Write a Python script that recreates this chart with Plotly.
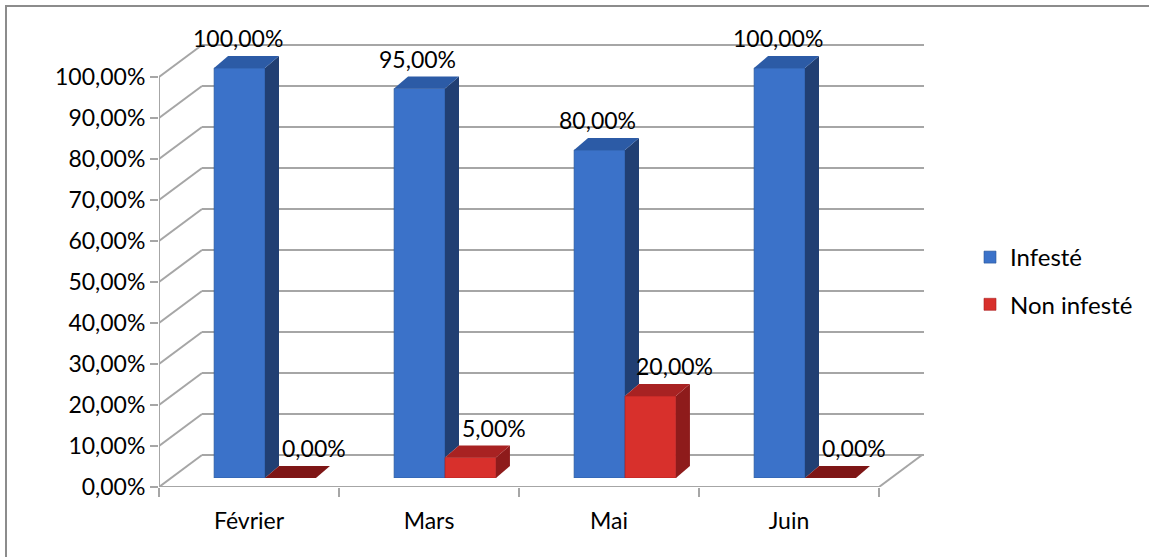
import plotly.graph_objects as go

# --- data -------------------------------------------------------------
mois = ["Février", "Mars", "Mai", "Juin"]
infeste = [100.0, 95.0, 80.0, 100.0]        # % infesté
non_infeste = [0.0, 5.0, 20.0, 0.0]         # % non infesté
y_ticks = [0, 10, 20, 30, 40, 50, 60, 70, 80, 90, 100]

# --- page geometry (pixels) -------------------------------------------
W, H = 1149, 557
FRONT_L, FRONT_R = 159, 879          # front floor edge
FRONT_T, FRONT_B = 77, 487           # 100 % and 0 % on the front axis
DEPTH_X, DEPTH_Y = 43, 32            # offset of the back wall
BAR_DX, BAR_DY = 16, 9               # offset of the bar plane
SIDE_DX, SIDE_DY = 14, 12            # bar thickness (side / top faces)
BAR_W = 0.283                        # bar width in category units

PLOT_L, PLOT_R = FRONT_L, 945
PLOT_T, PLOT_B = 15, FRONT_B
PW, PH = PLOT_R - PLOT_L, PLOT_B - PLOT_T
CAT_PX = (FRONT_R - FRONT_L) / len(mois)
VAL_PX = (FRONT_B - FRONT_T) / 100.0

BLUE, BLUE_SIDE, BLUE_TOP = "#3b72c9", "#213f73", "#2c5ba6"
RED, RED_SIDE, RED_TOP = "#d8302c", "#8e1b1b", "#a82222"
GRID = "#a6a6a6"
FONT = "Lato"
FS = 23


def fmt(v):
    return f"{v:.2f}".replace(".", ",") + "%"


fig = go.Figure()

# invisible trace so the front category axis gets its labels
fig.add_trace(go.Scatter(x=mois, y=infeste, mode="markers",
                         marker=dict(opacity=0), showlegend=False,
                         hoverinfo="skip", xaxis="x", yaxis="y"))

fig.add_trace(go.Bar(name="Infesté", x=mois, y=infeste, width=BAR_W,
                     offset=-BAR_W, marker=dict(color=BLUE,
                     line=dict(color="#2a5596", width=0.6)),
                     xaxis="x2", yaxis="y2", legendgroup="a"))
fig.add_trace(go.Bar(name="Non infesté", x=mois, y=non_infeste, width=BAR_W,
                     offset=0, marker=dict(color=RED,
                     line=dict(color="#a82020", width=0.6)),
                     xaxis="x2", yaxis="y2", legendgroup="b"))

shapes = []
wall = dict(xref="x", yref="y", layer="below", type="line",
            xsizemode="pixel", ysizemode="pixel",
            line=dict(color=GRID, width=2))

# back wall gridlines and side-wall diagonals
for v in y_ticks:
    shapes.append(dict(xanchor=-0.5, yanchor=v,
                       x0=DEPTH_X, x1=DEPTH_X + CAT_PX * len(mois) + 2,
                       y0=DEPTH_Y, y1=DEPTH_Y, **wall))
    shapes.append(dict(xanchor=-0.5, yanchor=v,
                       x0=0, y0=0, x1=DEPTH_X, y1=DEPTH_Y, **wall))
# right edge of the floor
shapes.append(dict(xanchor=len(mois) - 0.5, yanchor=0,
                   x0=0, y0=0, x1=DEPTH_X, y1=DEPTH_Y, **wall))
# front value axis and front floor edge
shapes.append(dict(type="line", xref="x", yref="y", layer="below",
                   x0=-0.5, x1=-0.5, y0=0, y1=max(y_ticks),
                   line=dict(color=GRID, width=2)))
shapes.append(dict(type="line", xref="x", yref="y", layer="below",
                   x0=-0.5, x1=len(mois) - 0.5, y0=0, y1=0,
                   line=dict(color=GRID, width=2)))

# side and top faces of the columns
bw = BAR_W * CAT_PX
for i, (b, r) in enumerate(zip(infeste, non_infeste)):
    bh, rh = b * VAL_PX, r * VAL_PX
    common = dict(xref="x2", yref="y2", layer="above", type="path",
                  xsizemode="pixel", ysizemode="pixel", yanchor=0,
                  line=dict(width=0))
    # blue side (the part not hidden by the red column)
    shapes.append(dict(xanchor=i, fillcolor=BLUE_SIDE,
                       path=f"M0,{rh} L{SIDE_DX},{rh + SIDE_DY} "
                            f"L{SIDE_DX},{bh + SIDE_DY} L0,{bh} Z", **common))
    # blue top
    shapes.append(dict(xanchor=i - BAR_W, fillcolor=BLUE_TOP,
                       path=f"M0,{bh} L{bw},{bh} L{bw + SIDE_DX},{bh + SIDE_DY} "
                            f"L{SIDE_DX},{bh + SIDE_DY} Z", **common))
    # red side
    shapes.append(dict(xanchor=i + BAR_W, fillcolor=RED_SIDE,
                       path=f"M0,0 L{SIDE_DX},{SIDE_DY} "
                            f"L{SIDE_DX},{rh + SIDE_DY} L0,{rh} Z", **common))
    # red top
    shapes.append(dict(xanchor=i, fillcolor=RED_TOP if r > 0 else "#7e1616",
                       path=f"M0,{rh} L{bw},{rh} L{bw + SIDE_DX},{rh + SIDE_DY} "
                            f"L{SIDE_DX},{rh + SIDE_DY} Z", **common))

# outer frame of the chart
shapes.append(dict(type="rect", xref="paper", yref="paper", layer="above",
                   x0=(6 - PLOT_L) / PW, x1=(W + 6 - PLOT_L) / PW,
                   y0=(PLOT_B - (H + 6)) / PH, y1=(PLOT_B - 6) / PH,
                   line=dict(color="#8c8c8c", width=2),
                   fillcolor="rgba(0,0,0,0)"))

# value labels
annotations = []
for i, (b, r) in enumerate(zip(infeste, non_infeste)):
    annotations.append(dict(x=i - BAR_W / 2, y=b, xref="x2", yref="y2",
                            text=fmt(b), showarrow=False, yshift=30, xshift=-2,
                            font=dict(family=FONT, size=FS, color="#000")))
    annotations.append(dict(x=i + BAR_W / 2, y=r, xref="x2", yref="y2",
                            text=fmt(r), showarrow=False, yshift=30, xshift=24,
                            font=dict(family=FONT, size=FS, color="#000")))

fig.update_layout(
    width=W, height=H, autosize=False,
    margin=dict(l=PLOT_L, r=W - PLOT_R, t=PLOT_T, b=H - PLOT_B, pad=0),
    paper_bgcolor="white", plot_bgcolor="rgba(0,0,0,0)",
    font=dict(family=FONT, size=FS, color="#000"),
    barmode="overlay",
    showlegend=True,
    legend=dict(xref="container", yref="container",
                x=970 / W, y=1 - 235 / H, xanchor="left", yanchor="top",
                font=dict(family=FONT, size=24, color="#000"),
                tracegroupgap=13, itemwidth=30, bgcolor="rgba(0,0,0,0)"),
    xaxis=dict(domain=[0, 1], range=[-0.5, -0.5 + PW / CAT_PX],
               type="category", categoryorder="array", categoryarray=mois,
               showline=False, ticks="outside", tickson="boundaries",
               ticklen=9, tickcolor=GRID, tickwidth=2, showgrid=False,
               zeroline=False, ticklabelstandoff=18, anchor="y"),
    yaxis=dict(domain=[0, 1], range=[0, PH / VAL_PX],
               tickvals=y_ticks, ticktext=[fmt(v) for v in y_ticks],
               showline=False, ticks="outside", ticklen=8,
               tickcolor=GRID, tickwidth=2,
               showgrid=False, zeroline=False, anchor="x"),
    xaxis2=dict(domain=[BAR_DX / PW, 1],
                range=[-0.5, -0.5 + (PW - BAR_DX) / CAT_PX], type="category",
                categoryorder="array", categoryarray=mois,
                visible=False, anchor="y2"),
    yaxis2=dict(domain=[BAR_DY / PH, 1], range=[0, (PH - BAR_DY) / VAL_PX],
                visible=False, anchor="x2"),
    shapes=shapes,
    annotations=annotations,
)

fig.write_html("out.html")
